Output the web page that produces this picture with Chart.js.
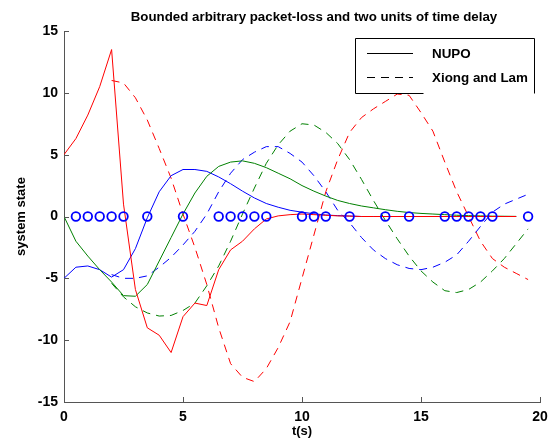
<!DOCTYPE html>
<html>
<head>
<meta charset="utf-8">
<script src="https://cdn.jsdelivr.net/npm/chart.js@4.4.1/dist/chart.umd.min.js"></script>
<style>
  body { margin: 0; background: #fff; }
</style>
</head>
<body>
<canvas id="stateChart" width="558" height="439"></canvas>
<script>
// time grids (s): NUPO runs from 0, Xiong and Lam starts after the 2-step delay
const tNupo = [0, 0.5, 1, 1.5, 2, 2.5, 3, 3.5, 4, 4.5, 5, 5.5, 6, 6.5, 7, 7.5, 8, 8.5, 9, 9.5,
  10, 10.5, 11, 11.5, 12, 12.5, 13, 13.5, 14, 14.5, 15, 15.5, 16, 16.5, 17, 17.5, 18, 18.5, 19];
const tXiong = [2, 2.5, 3, 3.5, 4, 4.5, 5, 5.5, 6, 6.5, 7, 7.5, 8, 8.5, 9, 9.5, 10, 10.5, 11, 11.5,
  12, 12.5, 13, 13.5, 14, 14.5, 15, 15.5, 16, 16.5, 17, 17.5, 18, 18.5, 19, 19.5];

// NUPO states
const nupoX1 = [5, 6.3, 8.2, 10.5, 13.5, 1.0, -5.9, -9.0, -9.6, -11.0, -8.1, -7.0, -7.2, -4.3, -2.7, -2.0, -1.0, -0.2, 0.05, 0.15,
  0.2, 0.15, 0.1, 0.05, 0.03, 0, 0, 0, 0, 0, 0, 0, 0, 0, 0, 0, 0, 0, 0];
const nupoX2 = [0, -2.0, -3.2, -4.3, -5.3, -6.4, -6.45, -5.5, -3.6, -1.7, 0.2, 1.9, 3.25, 4.05, 4.4, 4.5, 4.3, 3.95, 3.5, 3.05,
  2.5, 2.05, 1.65, 1.3, 1.05, 0.85, 0.7, 0.55, 0.42, 0.32, 0.25, 0.2, 0.15, 0.1, 0.07, 0.05, 0.03, 0.02, 0.01];
const nupoX3 = [-5.0, -4.1, -4.0, -4.3, -4.9, -4.3, -2.6, -0.1, 2.0, 3.3, 3.8, 3.8, 3.65, 3.2, 2.65, 2.05, 1.5, 1.05, 0.75, 0.5,
  0.35, 0.22, 0.12, 0.07, 0.04, 0, 0, 0, 0, 0, 0, 0, 0, 0, 0, 0, 0, 0, 0];

// Xiong and Lam states
const xiongX1 = [11.0, 10.8, 9.6, 7.8, 5.5, 3.1, 0.2, -2.5, -5.5, -9.0, -11.9, -13.0, -13.35, -12.3, -10.6, -8.5,
  -5.0, -1.5, 2.0, 4.6, 6.8, 8.0, 8.7, 9.3, 9.9, 9.8, 8.4, 6.9, 4.4, 2.0, 0.0, -2.0, -3.4, -4.1, -4.6, -5.1];
const xiongX2 = [-5.4, -6.5, -7.3, -7.8, -8.05, -8.0, -7.6, -7.0, -5.6, -4.0, -2.0, 0.2, 2.3, 4.3, 5.8, 6.9,
  7.5, 7.4, 6.8, 5.9, 4.6, 3.0, 1.3, -0.3, -1.8, -3.2, -4.4, -5.3, -6.0, -6.15, -5.9, -5.3, -4.4, -3.4, -2.2, -1.0];
const xiongX3 = [-4.7, -5.0, -5.0, -4.8, -4.1, -3.3, -2.3, -1.2, 0.2, 2.0, 3.5, 4.6, 5.2, 5.65, 5.65, 5.1,
  4.4, 3.3, 2.0, 0.5, -0.5, -1.7, -2.7, -3.4, -3.9, -4.2, -4.3, -4.1, -3.7, -3.1, -2.0, -0.8, 0.35, 1.0, 1.4, 1.8];

// instants where a packet was lost
const tLost = [0.5, 1, 1.5, 2, 2.5, 3.5, 5, 6.5, 7, 7.5, 8, 8.5, 10, 10.5, 11, 12, 13.5, 14.5, 16, 16.5, 17, 17.5, 18, 19.5];

const xTicks = [0, 5, 10, 15, 20];
const yTicks = [-15, -10, -5, 0, 5, 10, 15];

const FONT = '"Liberation Sans", Arial, sans-serif';
const pts = (ts, ys) => ts.map((t, i) => ({ x: t, y: ys[i] }));

const curve = (data, color, dashed) => ({
  data,
  borderColor: color,
  borderWidth: 1,
  borderDash: dashed ? [8, 6] : [],
  pointRadius: 0,
  tension: 0,
  fill: false
});

// title, inward tick marks and legend box
const decorations = {
  id: 'decorations',
  afterDatasetsDraw(chart) {
    const ctx = chart.ctx;
    const { left, bottom } = chart.chartArea;
    const xs = chart.scales.x, ys = chart.scales.y;
    ctx.save();

    ctx.strokeStyle = '#555';
    ctx.lineWidth = 1;
    ctx.setLineDash([]);
    ctx.beginPath();
    xTicks.forEach(v => {
      const px = Math.round(xs.getPixelForValue(v)) + 0.5;
      ctx.moveTo(px, bottom);
      ctx.lineTo(px, bottom - 5);
    });
    yTicks.forEach(v => {
      const py = Math.round(ys.getPixelForValue(v)) + 0.5;
      ctx.moveTo(left, py);
      ctx.lineTo(left + 5, py);
    });
    ctx.stroke();

    // legend
    const bx = 355.5, by = 38.5, bw = 179, bh = 55;
    ctx.fillStyle = '#fff';
    ctx.fillRect(bx, by, bw, bh);
    ctx.strokeStyle = '#000';
    ctx.beginPath();
    ctx.moveTo(bx + 68, by + bh);
    ctx.lineTo(bx, by + bh);
    ctx.lineTo(bx, by);
    ctx.lineTo(bx + bw, by);
    ctx.lineTo(bx + bw, by + bh);
    ctx.stroke();

    ctx.beginPath();
    ctx.moveTo(367, 53.5);
    ctx.lineTo(413, 53.5);
    ctx.stroke();
    ctx.setLineDash([8, 6]);
    ctx.beginPath();
    ctx.moveTo(367, 77.5);
    ctx.lineTo(413, 77.5);
    ctx.stroke();
    ctx.setLineDash([]);

    ctx.fillStyle = '#000';
    ctx.font = 'bold 13.4px ' + FONT;
    ctx.textAlign = 'left';
    ctx.textBaseline = 'middle';
    ctx.fillText('NUPO', 432, 54);
    ctx.fillText('Xiong and Lam', 432, 78);

    ctx.font = 'bold 13.3px ' + FONT;
    ctx.textAlign = 'center';
    ctx.fillText('Bounded arbitrary packet-loss and two units of time delay', 314, 17);
    ctx.restore();
  }
};

new Chart(document.getElementById('stateChart'), {
  type: 'line',
  data: {
    datasets: [
      {
        data: tLost.map(t => ({ x: t, y: 0 })),
        showLine: false,
        pointStyle: 'circle',
        pointRadius: 4.3,
        pointBorderWidth: 1.8,
        pointBorderColor: '#0000ff',
        pointBackgroundColor: 'rgba(0,0,0,0)',
        borderColor: '#0000ff'
      },
      curve(pts(tNupo, nupoX1), '#ff0000', false),
      curve(pts(tNupo, nupoX2), '#008000', false),
      curve(pts(tNupo, nupoX3), '#0000ff', false),
      curve(pts(tXiong, xiongX1), '#ff0000', true),
      curve(pts(tXiong, xiongX2), '#008000', true),
      curve(pts(tXiong, xiongX3), '#0000ff', true)
    ]
  },
  options: {
    responsive: false,
    animation: false,
    layout: { padding: { left: 0, right: 18, top: 31, bottom: 0 } },
    plugins: {
      legend: { display: false },
      tooltip: { enabled: false }
    },
    scales: {
      x: {
        type: 'linear',
        min: 0,
        max: 20,
        afterFit: s => { s.height = 37; },
        afterBuildTicks: s => { s.ticks = xTicks.map(v => ({ value: v })); },
        grid: { display: false, drawTicks: false },
        border: { display: true, color: '#555', width: 1 },
        ticks: { padding: 7, color: '#000', font: { family: FONT, size: 14, weight: 'bold' } },
        title: { display: true, text: 't(s)', color: '#000', padding: { top: 0, bottom: 0 },
          font: { family: FONT, size: 13, weight: 'bold' } }
      },
      y: {
        min: -15,
        max: 15,
        afterFit: s => { s.width = 64; },
        afterBuildTicks: s => { s.ticks = yTicks.map(v => ({ value: v })); },
        grid: { display: false, drawTicks: false },
        border: { display: true, color: '#555', width: 1 },
        ticks: { padding: 6, color: '#000', font: { family: FONT, size: 14, weight: 'bold' } },
        title: { display: true, text: 'system state', color: '#000', padding: { top: 14, bottom: 0 },
          font: { family: FONT, size: 13, weight: 'bold' } }
      }
    }
  },
  plugins: [decorations]
});
</script>
</body>
</html>
